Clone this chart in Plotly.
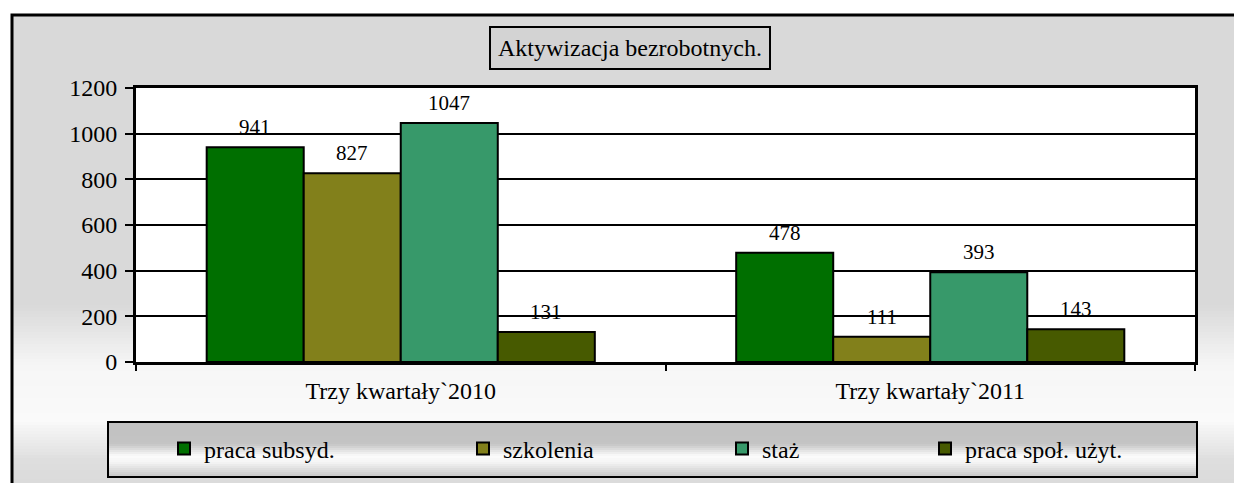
import plotly.graph_objects as go

categories = ["Trzy kwartały`2010", "Trzy kwartały`2011"]
series_names = ["praca subsyd.", "szkolenia", "staż", "praca społ. użyt."]
praca_subsyd = [941, 478]
szkolenia = [827, 111]
staz = [1047, 393]
praca_spol = [131, 143]
series_values = [praca_subsyd, szkolenia, staz, praca_spol]
colors = ["#006f00", "#82801b", "#37996a", "#475a00"]
title_text = "Aktywizacja bezrobotnych."

W, H = 1234, 483
ML, MR, MT, MB = 136, 39, 88, 121
PW, PH = W - ML - MR, H - MT - MB
BARGAP = 0.267
FONT = '"Liberation Serif", "Times New Roman", serif'

def px_x(px):
    return (px - ML) / PW

def px_y(py):
    return (H - MB - py) / PH

fig = go.Figure()
legend_ids = ["legend", "legend2", "legend3", "legend4"]
for name, vals, col, lid in zip(series_names, series_values, colors, legend_ids):
    fig.add_trace(go.Bar(
        name=name, x=categories, y=vals, legend=lid,
        marker=dict(color=col, line=dict(color="black", width=2)),
    ))

# data labels above bars
n = len(series_names)
bw = (1 - BARGAP) / n
annotations = []
for k, vals in enumerate(series_values):
    for i, v in enumerate(vals):
        annotations.append(dict(
            x=i + (k - (n - 1) / 2) * bw, y=v, xref="x", yref="y",
            text=str(v), showarrow=False, yanchor="bottom", yshift=6,
            font=dict(family=FONT, size=21, color="black"),
        ))

# title box
annotations.append(dict(
    x=px_x(629.5), y=px_y(47.5), xref="paper", yref="paper",
    text=title_text, showarrow=False, xanchor="center", yanchor="middle",
    font=dict(family=FONT, size=24, color="black"),
    bgcolor="#d3d3d3", bordercolor="black", borderwidth=2, borderpad=7,
))

def lerp(c1, c2, t):
    return "#%02x%02x%02x" % tuple(int(round(a + (b - a) * t)) for a, b in zip(c1, c2))

def grad_color(py, stops):
    for (y0, c0), (y1, c1) in zip(stops, stops[1:]):
        if y0 <= py <= y1:
            t = 0 if y1 == y0 else (py - y0) / (y1 - y0)
            return lerp(c0, c1, t)
    return lerp(stops[-1][1], stops[-1][1], 0)

shapes = []
bg_stops = [(14, (217, 217, 217)), (305, (217, 217, 217)), (365, (246, 246, 246)),
            (420, (250, 250, 250)), (460, (222, 222, 222)), (490, (218, 218, 218))]
step = 3
y = 14
while y < 490:
    shapes.append(dict(type="rect", xref="paper", yref="paper", layer="below",
                       x0=px_x(11), x1=px_x(1240), y0=px_y(y), y1=px_y(y + step + 0.5),
                       fillcolor=grad_color(y + step / 2, bg_stops), line=dict(width=0)))
    y += step
shapes.append(dict(type="rect", xref="paper", yref="paper", layer="below",
                   x0=px_x(12), x1=px_x(1240), y0=px_y(15), y1=px_y(490),
                   fillcolor="rgba(0,0,0,0)", line=dict(color="black", width=3)))
shapes.append(dict(type="rect", xref="paper", yref="paper", layer="below",
                   x0=0, x1=1, y0=0, y1=1, fillcolor="white", line=dict(width=0)))

lg_stops = [(422, (192, 192, 192)), (444, (196, 196, 196)), (456, (252, 252, 252)),
            (462, (245, 245, 245)), (477, (196, 196, 196))]
y = 422
while y < 477:
    shapes.append(dict(type="rect", xref="paper", yref="paper", layer="below",
                       x0=px_x(108), x1=px_x(1197), y0=px_y(y), y1=px_y(min(y + 2.5, 477)),
                       fillcolor=grad_color(y + 1, lg_stops), line=dict(width=0)))
    y += 2
shapes.append(dict(type="rect", xref="paper", yref="paper", layer="below",
                   x0=px_x(108), x1=px_x(1197), y0=px_y(422), y1=px_y(477),
                   fillcolor="rgba(0,0,0,0)", line=dict(color="black", width=2)))

# legend positions (text start in reference pixels)
legend_text_x = [204, 503, 762, 965]
legend_common = dict(orientation="h", xanchor="left", yanchor="middle", y=px_y(449),
                     bgcolor="rgba(0,0,0,0)", font=dict(family=FONT, size=24, color="black"),
                     itemwidth=30)
legend_layout = {}
for lid, tx in zip(legend_ids, legend_text_x):
    legend_layout[lid] = dict(legend_common, x=px_x(tx - 40))

fig.update_layout(
    width=W, height=H,
    margin=dict(l=ML, r=MR, t=MT, b=MB),
    paper_bgcolor="white", plot_bgcolor="rgba(0,0,0,0)",
    barmode="group", bargap=BARGAP, bargroupgap=0,
    font=dict(family=FONT, size=21, color="black"),
    showlegend=True,
    annotations=annotations,
    shapes=shapes,
    **legend_layout,
)
fig.update_yaxes(range=[0, 1200], dtick=200, showgrid=True, gridcolor="black", gridwidth=2,
                 showline=True, linecolor="black", linewidth=3, mirror=True,
                 ticks="outside", ticklen=8, tickwidth=2, tickcolor="black",
                 tickfont=dict(family=FONT, size=24), zeroline=False, ticklabelstandoff=3)
fig.update_xaxes(showline=True, linecolor="black", linewidth=3, mirror=True,
                 ticks="outside", tickson="boundaries", ticklen=6, tickwidth=2, tickcolor="black",
                 tickfont=dict(family=FONT, size=24), showgrid=False, ticklabelstandoff=5)

fig.write_html("out.html", config={"displayModeBar": False},
               post_script="document.body.style.margin='0px';document.body.style.overflow='hidden';")
